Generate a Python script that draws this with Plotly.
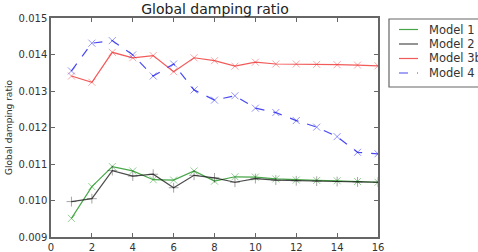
import plotly.graph_objects as go

x = list(range(1, 17))
model1 = [0.00951, 0.01038, 0.01093, 0.01081, 0.01057, 0.01056, 0.01081, 0.01053, 0.01065, 0.01064,
          0.01059, 0.01056, 0.01055, 0.01054, 0.01052, 0.01050]
model2 = [0.00997, 0.01005, 0.01082, 0.01067, 0.01072, 0.01035, 0.01069, 0.01062, 0.01050, 0.01060,
          0.01056, 0.01054, 0.01053, 0.01052, 0.01051, 0.01050]
model3 = [0.01341, 0.01324, 0.01406, 0.01391, 0.01397, 0.01353, 0.01391, 0.01383, 0.01368, 0.01379,
          0.01374, 0.01374, 0.01373, 0.01372, 0.01371, 0.01369]
model4 = [0.01355, 0.01431, 0.01438, 0.01399, 0.01341, 0.01374, 0.01303, 0.01275, 0.01287, 0.01253,
          0.01241, 0.01219, 0.01201, 0.01175, 0.01132, 0.01128]
names = ["Model 1", "Model 2", "Model 3b", "Model 4"]
xticks = [0, 2, 4, 6, 8, 10, 12, 14, 16]
yticks = [0.009, 0.010, 0.011, 0.012, 0.013, 0.014, 0.015]

series = [
    (model1, "rgba(40,150,40,0.85)", "rgba(40,160,40,0.5)", "solid", "x-thin"),
    (model2, "rgba(30,30,30,0.8)", "rgba(30,30,30,0.4)", "solid", "cross-thin"),
    (model3, "rgba(240,60,60,0.85)", "rgba(240,60,60,0.45)", "solid", "x-thin"),
    (model4, "rgba(40,40,240,0.85)", "rgba(40,40,240,0.5)", "dash", "x-thin"),
]

W, H = 478, 252
L, R, T, B = 51, 100, 18, 15
pw, ph = W - L - R, H - T - B


def px2paper_x(px):
    return (px - L) / pw


def px2paper_y(py):
    return (H - B - py) / ph


fig = go.Figure()
for (vals, lc, mc, dash, sym), name in zip(series, names):
    fig.add_trace(go.Scatter(
        x=x, y=vals, name=name, mode="lines+markers", showlegend=False,
        line=dict(color=lc, width=1.2, dash=dash),
        marker=dict(symbol=sym, size=7, line=dict(color=mc, width=1)),
    ))

axis_common = dict(
    showgrid=False, zeroline=False, showline=True, linecolor="#666", linewidth=1.5,
    mirror="ticks", ticks="inside", ticklen=4, tickcolor="#666",
    tickfont=dict(family="DejaVu Sans", size=10, color="#333"),
)
fig.update_xaxes(range=[0, 16], tickvals=xticks, ticktext=[str(v) for v in xticks], **axis_common)
fig.update_yaxes(range=[0.009, 0.015], tickvals=yticks, ticktext=[f"{v:.3f}" for v in yticks],
                 title=dict(text="Global damping ratio", font=dict(family="DejaVu Sans", size=9, color="#333"),
                            standoff=4), **axis_common)

# manual legend (matplotlib-style, lines only)
shapes = [dict(type="rect", xref="paper", yref="paper",
               x0=px2paper_x(389), x1=px2paper_x(495), y0=px2paper_y(87), y1=px2paper_y(19),
               line=dict(color="#666", width=1.2), fillcolor="white", layer="above")]
annotations = []
row_y = [29.5, 44, 58.5, 73]
for (vals, lc, mc, dash, sym), name, ry in zip(series, names, row_y):
    shapes.append(dict(type="line", xref="paper", yref="paper",
                       x0=px2paper_x(399), x1=px2paper_x(418), y0=px2paper_y(ry), y1=px2paper_y(ry),
                       line=dict(color=lc, width=1.2, dash=dash), layer="above"))
    annotations.append(dict(text=name, xref="paper", yref="paper", x=px2paper_x(427), y=px2paper_y(ry),
                            xanchor="left", yanchor="middle", showarrow=False,
                            font=dict(family="DejaVu Sans", size=11.5, color="#333")))

fig.update_layout(
    width=W, height=H,
    margin=dict(l=L, r=R, t=T, b=B, autoexpand=False),
    paper_bgcolor="white", plot_bgcolor="white",
    title=dict(text="Global damping ratio", x=215 / W, xanchor="center", y=1 - 9.5 / H, yanchor="middle",
               font=dict(family="DejaVu Sans", size=14, color="#222")),
    shapes=shapes, annotations=annotations,
    showlegend=False,
)
fig.write_html("out.html")
